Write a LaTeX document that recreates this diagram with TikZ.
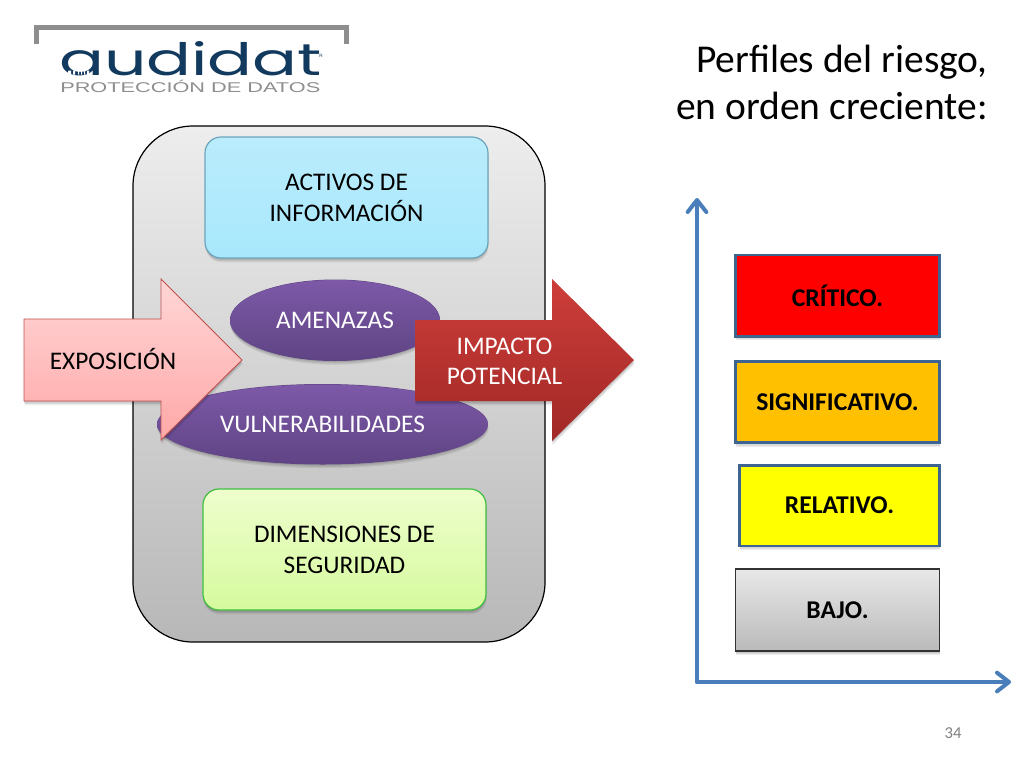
\documentclass[tikz,border=0pt]{standalone}
\usepackage{fontspec}
\usepackage{graphicx}
\setmainfont{Carlito}
\newfontfamily\logofont{Poppins}
\newfontfamily\logoplain{Liberation Sans}
\usetikzlibrary{shapes.geometric,arrows.meta}
\definecolor{axisblue}{HTML}{4A7EBB}
\definecolor{boxedge}{HTML}{3E6491}
\definecolor{navy}{HTML}{123A5E}
\definecolor{logogray}{HTML}{8E8E8E}
\definecolor{violet1}{HTML}{7D59A8}
\definecolor{violet2}{HTML}{5F4484}
\definecolor{levelyellow}{HTML}{FFFF00}
\definecolor{levelred}{HTML}{FF0000}
\definecolor{levelamber}{HTML}{FFC000}
\tikzset{
  softshadow/.style={
    preaction={fill=black,opacity=.07,transform canvas={xshift=.4pt,yshift=-3.2pt}},
    preaction={fill=black,opacity=.08,transform canvas={xshift=.2pt,yshift=-2.2pt}},
    preaction={fill=black,opacity=.09,transform canvas={yshift=-1.2pt}}},
  label/.style={font=\fontsize{19}{22.9}\selectfont,align=center,inner sep=0pt},
  whitelabel/.style={label,text=white},
  boldlabel/.style={font=\fontsize{19.2}{22}\selectfont\bfseries,align=center,inner sep=0pt},
  softbox/.style={softshadow,draw=#1,line width=.9pt,rounded corners=12pt},
  blob/.style={ellipse,top color=violet1,bottom color=violet2,inner sep=0pt,whitelabel},
  levelbox/.style={softshadow,draw=boxedge,line width=2pt,inner sep=0pt,boldlabel},
  axisline/.style={draw=axisblue,line width=3pt,line cap=round,
     -{Straight Barb[length=9pt,width=14pt,line width=3pt,round]}},
}
\begin{document}
\begin{tikzpicture}[x=.75pt,y=-.75pt]
\useasboundingbox (0,0) rectangle (1024,768);
\fill[white] (0,0) rectangle (1024,768);
% logo
\draw[logogray,line width=3.8pt] (36.5,44) -- (36.5,27.5) -- (346.5,27.5) -- (346.5,44);
\node[anchor=south west,inner sep=0pt,text=navy] (logoword) at (59,76)
  {\resizebox{197pt}{25.5pt}{\logofont audidat}};
\fill[white] (68,70.5) rectangle (71,74.5) (73,70.5) rectangle (75,74.5) (78,70.5) rectangle (79,74.5) (81,70.5) rectangle (82,74.5) (84,70.5) rectangle (85,74.5) (87,70.5) rectangle (89,74.5);
\node[anchor=south west,inner sep=0pt,text=navy,font=\fontsize{3.5}{4}\selectfont\logoplain] (logomark) at (319,58) {R};
\node[anchor=south west,inner sep=0pt,text=logogray] (logosub) at (60,92.5)
  {\resizebox{195pt}{9.2pt}{\logoplain PROTECCIÓN DE DATOS}};
% container
\draw[draw=black,line width=.9pt,rounded corners=45pt,top color=white!93!black,bottom color=white!72!black]
  (133,126) rectangle (545,642);
% inner boxes
\draw[softbox={cyan!45!gray},top color={rgb,255:red,186;green,236;blue,252},bottom color={rgb,255:red,168;green,232;blue,252}]
  (205,137) rectangle (488,258);
\node[label] (activos) at (346.5,198) {ACTIVOS DE\\INFORMACIÓN};
\path[softshadow,fill=violet2] (335,320) ellipse [x radius=105,y radius=40.5];
\node[blob,minimum width=157.5pt,minimum height=60.75pt] (amenazas) at (335,320.5) {AMENAZAS};
\path[softshadow,fill=violet2] (322.5,424) ellipse [x radius=165.5,y radius=40];
\node[blob,minimum width=248.25pt,minimum height=60pt] (vulnerab) at (322.5,424.5) {VULNERABILIDADES};
\draw[softbox={green!50!gray},top color={rgb,255:red,238;green,254;blue,205},bottom color={rgb,255:red,214;green,250;blue,158}]
  (203,489) rectangle (486,610);
\node[label] (dimensiones) at (344.5,550) {DIMENSIONES DE\\SEGURIDAD};
% exposure arrow
\draw[softshadow,draw={rgb,255:red,190;green,80;blue,78},line width=.7pt,line join=miter,
      top color={rgb,255:red,255;green,214;blue,214},bottom color={rgb,255:red,255;green,168;blue,168}]
  (24,319) -- (161,319) -- (161,279) -- (242,360) -- (161,440) -- (161,401) -- (24,401) -- cycle;
\node[label] (exposicion) at (113,359.5) {EXPOSICIÓN};
% impact arrow
\draw[softshadow,draw=none,
      top color={rgb,255:red,206;green,62;blue,58},bottom color={rgb,255:red,160;green,40;blue,38}]
  (415,320) -- (552,320) -- (552,279) -- (634,360) -- (552,441) -- (552,401) -- (415,401) -- cycle;
\node[whitelabel] (impacto) at (504.5,361.5) {IMPACTO\\POTENCIAL};
% axes
\coordinate (origin) at (697,682);
\coordinate (ytop) at (697,198);
\coordinate (xend) at (1011,682);
\draw[axisline] (origin) -- (ytop);
\draw[axisline] (origin) -- (xend);
% levels
\node[levelbox,fill=levelred,minimum width=153pt,minimum height=61pt] (critico) at (837.5,295.5) {CRÍTICO.};
\node[levelbox,fill=levelamber,minimum width=153pt,minimum height=61pt] (signif) at (837.5,402) {SIGNIFICATIVO.};
\node[levelbox,fill=levelyellow,minimum width=150pt,minimum height=60.5pt] (relativo) at (839.5,505.5) {RELATIVO.};
\node[levelbox,draw={rgb,255:red,50;green,50;blue,50},line width=.8pt,top color=white!91!black,bottom color=white!73!black,minimum width=153pt,minimum height=61.5pt] (bajo) at (837.5,610) {BAJO.};
% title
\node[anchor=north east,align=right,inner sep=0pt,font=\fontsize{29.6}{35.2}\selectfont] (title) at (988,45) {Perfiles del riesgo,\\en orden creciente:};
\node[text=gray,font=\fontsize{12.5}{14}\selectfont,inner sep=0pt] (page) at (953,733) {34};
\end{tikzpicture}
\end{document}
